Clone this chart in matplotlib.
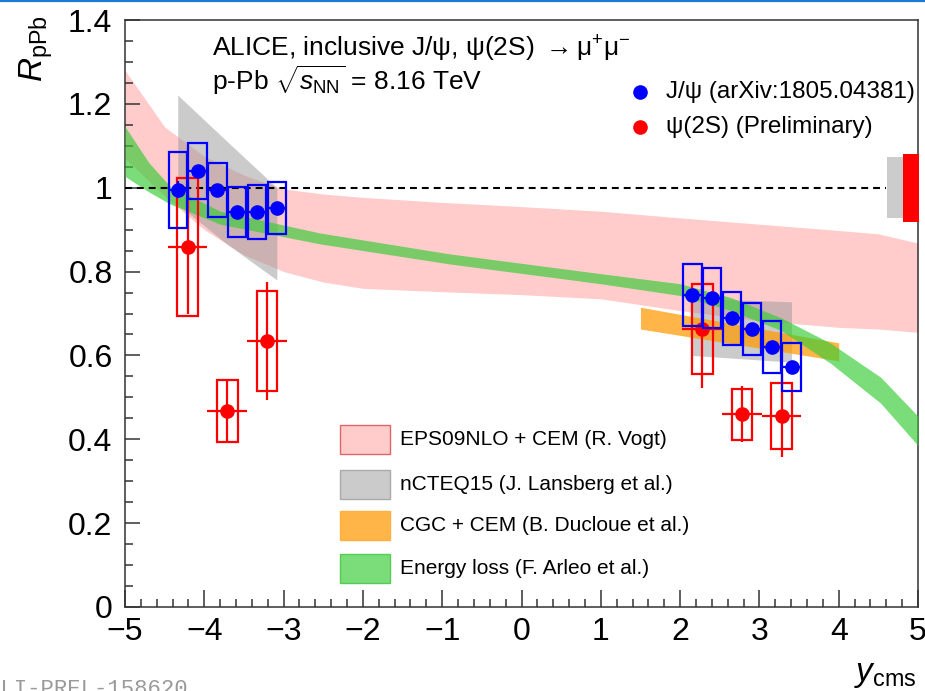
import numpy as np
import matplotlib
matplotlib.use("Agg")
import matplotlib.pyplot as plt
from matplotlib.patches import Rectangle
from matplotlib.lines import Line2D
from matplotlib.ticker import FixedLocator, MultipleLocator

plt.rcParams['font.family'] = ['Liberation Sans', 'DejaVu Sans']
plt.rcParams['mathtext.fontset'] = 'custom'
plt.rcParams['mathtext.rm'] = 'Liberation Sans'
plt.rcParams['mathtext.it'] = 'Liberation Sans:italic'
plt.rcParams['mathtext.bf'] = 'Liberation Sans:bold'

# ---------------- data ----------------
# inclusive J/psi R_pPb (bin centres, values, stat, uncorrelated syst)
jpsi_y = [-4.335, -4.085, -3.835, -3.585, -3.335, -3.085,
          2.155, 2.405, 2.655, 2.905, 3.155, 3.405]
jpsi_r = [0.995, 1.040, 0.995, 0.942, 0.942, 0.952,
          0.744, 0.737, 0.689, 0.663, 0.620, 0.572]
jpsi_stat = [0.020, 0.015, 0.012, 0.012, 0.012, 0.012,
             0.010, 0.008, 0.008, 0.008, 0.008, 0.010]
jpsi_sys = [0.090, 0.067, 0.065, 0.060, 0.064, 0.062,
            0.074, 0.072, 0.063, 0.062, 0.061, 0.057]
jpsi_halfbin = 0.125
jpsi_boxhalf = 0.115

# psi(2S) R_pPb
psi2s_y = [-4.21, -3.71, -3.21, 2.28, 2.78, 3.28]
psi2s_r = [0.859, 0.467, 0.634, 0.663, 0.460, 0.456]
psi2s_stat = [0.160, 0.075, 0.140, 0.140, 0.067, 0.099]
psi2s_sys = [0.165, 0.074, 0.120, 0.108, 0.061, 0.079]
psi2s_halfbin = 0.25
psi2s_boxhalf = 0.13

# global (correlated) uncertainties
glob_jpsi = 0.073
glob_psi2s = 0.081

# EPS09NLO + CEM band
eps_x = [-5, -4.5, -4, -3.5, -3, -2.5, -2, -1, 0, 1, 2, 3, 4, 4.5, 5]
eps_hi = [1.28, 1.145, 1.075, 1.03, 0.997, 0.985, 0.977, 0.965, 0.955,
          0.944, 0.928, 0.913, 0.898, 0.89, 0.868]
eps_lo = [1.07, 0.98, 0.90, 0.84, 0.80, 0.775, 0.76, 0.752, 0.745,
          0.735, 0.707, 0.683, 0.667, 0.663, 0.655]

# nCTEQ15 bands (backward / forward)
ncteq_bw_x = [-4.335, -3.71, -3.085]
ncteq_bw_hi = [1.221, 1.11, 1.0]
ncteq_bw_lo = [0.96, 0.865, 0.78]
ncteq_fw_x = [2.155, 2.78, 3.405]
ncteq_fw_hi = [0.738, 0.732, 0.728]
ncteq_fw_lo = [0.600, 0.592, 0.584]

# CGC + CEM band
cgc_x = [1.5, 4.0]
cgc_hi = [0.715, 0.630]
cgc_lo = [0.663, 0.587]

# Energy loss band
eloss_x = [-5, -4.7, -4.43, -3.8, -2.54, -0.9, 1.0, 2.0, 2.64, 3.27, 3.9, 4.53, 5.0]
eloss_hi = [1.146, 1.06, 1.003, 0.944, 0.892, 0.842, 0.795, 0.771, 0.738,
            0.690, 0.629, 0.548, 0.455]
eloss_lo = [1.027, 0.99, 0.961, 0.913, 0.866, 0.818, 0.771, 0.743, 0.707,
            0.660, 0.581, 0.486, 0.385]

x_ticks = [-5, -4, -3, -2, -1, 0, 1, 2, 3, 4, 5]
x_ticklabels = ['\u22125', '\u22124', '\u22123', '\u22122', '\u22121',
                '0', '1', '2', '3', '4', '5']
y_ticks = [0, 0.2, 0.4, 0.6, 0.8, 1.0, 1.2, 1.4]
y_ticklabels = ['0', '0.2', '0.4', '0.6', '0.8', '1', '1.2', '1.4']

model_labels = ['EPS09NLO + CEM (R. Vogt)', 'nCTEQ15 (J. Lansberg et al.)',
                'CGC + CEM (B. Ducloue et al.)', 'Energy loss (F. Arleo et al.)']

# ---------------- styles ----------------
c_eps = '#ff9999'
c_ncteq = '#999999'
c_cgc = '#ff9900'
c_eloss = '#33cc33'
a_eps, a_ncteq, a_cgc, a_eloss = 0.5, 0.5, 0.72, 0.65

fig = plt.figure(figsize=(9.25, 6.91), dpi=100)
ax = fig.add_axes([125 / 925, 84 / 691, 793 / 925, 587 / 691])
ax.set_xlim(-5, 5)
ax.set_ylim(0, 1.4)

# model bands
ax.fill_between(eps_x, eps_lo, eps_hi, color=c_eps, alpha=a_eps, lw=0, zorder=1)
ax.fill_between(ncteq_bw_x, ncteq_bw_lo, ncteq_bw_hi, color=c_ncteq, alpha=a_ncteq, lw=0, zorder=2)
ax.fill_between(ncteq_fw_x, ncteq_fw_lo, ncteq_fw_hi, color=c_ncteq, alpha=a_ncteq, lw=0, zorder=2)
ax.fill_between(cgc_x, cgc_lo, cgc_hi, color=c_cgc, alpha=a_cgc, lw=0, zorder=3)
ax.fill_between(eloss_x, eloss_lo, eloss_hi, color=c_eloss, alpha=a_eloss, lw=0, zorder=3)

# unity reference
ax.plot([-5, 4.6], [1, 1], color='black', lw=1.5, ls=(0, (3.3, 2.4)), zorder=4)

# global uncertainty boxes
ax.add_patch(Rectangle((4.61, 1 - glob_jpsi), 0.2, 2 * glob_jpsi,
                       facecolor='#cccccc', edgecolor='none', zorder=4, clip_on=False))
ax.add_patch(Rectangle((4.81, 1 - glob_psi2s), 0.2, 2 * glob_psi2s,
                       facecolor='#ff0000', edgecolor='none', zorder=4, clip_on=False))

# psi(2S) points
for x, r, s in zip(psi2s_y, psi2s_r, psi2s_sys):
    ax.add_patch(Rectangle((x - psi2s_boxhalf, r - s), 2 * psi2s_boxhalf, 2 * s,
                           fill=False, edgecolor='#ff0000', lw=1.6, zorder=5))
ax.errorbar(psi2s_y, psi2s_r, xerr=psi2s_halfbin, yerr=psi2s_stat, fmt='o',
            color='#ff0000', ms=9.5, elinewidth=1.6, capsize=0, zorder=6)

# J/psi points
for x, r, s in zip(jpsi_y, jpsi_r, jpsi_sys):
    ax.add_patch(Rectangle((x - jpsi_boxhalf, r - s), 2 * jpsi_boxhalf, 2 * s,
                           fill=False, edgecolor='#0000ff', lw=1.6, zorder=7))
ax.errorbar(jpsi_y, jpsi_r, xerr=jpsi_halfbin, yerr=jpsi_stat, fmt='o',
            color='#0000ff', ms=9.5, elinewidth=1.6, capsize=0, zorder=8)

# axes styling
for side in ['left', 'bottom', 'top', 'right']:
    ax.spines[side].set_linewidth(1.1)
    ax.spines[side].set_color('#333333')
ax.xaxis.set_major_locator(FixedLocator(x_ticks))
ax.xaxis.set_minor_locator(MultipleLocator(0.2))
ax.yaxis.set_major_locator(FixedLocator(y_ticks))
ax.yaxis.set_minor_locator(MultipleLocator(0.05))
ax.set_xticklabels(x_ticklabels)
ax.set_yticklabels(y_ticklabels)
ax.tick_params(axis='x', which='major', direction='in', length=12, width=1.1,
               labelsize=23, pad=7, color='#333333')
ax.tick_params(axis='x', which='minor', direction='in', length=5.5, width=1.1, color='#333333')
ax.tick_params(axis='y', which='major', direction='in', length=11, width=1.1,
               labelsize=23, pad=9, color='#333333')
ax.tick_params(axis='y', which='minor', direction='in', length=5.5, width=1.1, color='#333333')

# axis titles
fig.text(36 / 925, 1 - 15 / 691, r'$R_{\mathrm{pPb}}$', rotation=90,
         ha='center', va='top', fontsize=24)
fig.text(917 / 925, 1 / 691, r'$y_{\mathrm{cms}}$', ha='right', va='bottom', fontsize=24)

# header text
ax.text(0.11, 0.937,
        'ALICE, inclusive J/\u03c8, \u03c8(2S) $\\rightarrow$\u03bc$^{+}$\u03bc$^{-}$',
        transform=ax.transAxes, fontsize=19, va='baseline', ha='left')
ax.text(0.11, 0.881, r'p-Pb $\sqrt{s_{\mathrm{NN}}}$ = 8.16 TeV',
        transform=ax.transAxes, fontsize=19, va='baseline', ha='left')

# data legend
leg_y = [0.877, 0.818]
leg_c = ['#0000ff', '#ff0000']
leg_t = ['J/\u03c8 (arXiv:1805.04381)', '\u03c8(2S) (Preliminary)']
for yy, cc, tt in zip(leg_y, leg_c, leg_t):
    ax.plot([0.649], [yy], 'o', color=cc, ms=9.5, transform=ax.transAxes, clip_on=False, zorder=9)
    ax.text(0.682, yy, tt, transform=ax.transAxes, fontsize=17.5, va='center', ha='left')

# model legend
sw_y = [0.2845, 0.2095, 0.138, 0.0664]
sw_fc = [(c_eps, a_eps), (c_ncteq, a_ncteq), (c_cgc, a_cgc), (c_eloss, a_eloss)]
sw_ec = ['#e06666', '#aaaaaa', '#ffb040', '#55cc55']
for yy, (fc, al), ec, lab in zip(sw_y, sw_fc, sw_ec, model_labels):
    ax.add_patch(Rectangle((0.271, yy - 0.0247), 0.063, 0.0494, transform=ax.transAxes,
                           facecolor=matplotlib.colors.to_rgba(fc, al), edgecolor=ec,
                           lw=1.0, zorder=9))
    ax.text(0.3468, yy, lab, transform=ax.transAxes, fontsize=15, va='center', ha='left')

# preliminary figure id and window border
fig.text(-13 / 925, -4 / 691, 'ALI-PREL-158620', family='Liberation Mono',
         fontsize=16, color='#9a9a9a', va='baseline', ha='left')
fig.add_artist(Line2D([0, 1], [1 - 1 / 691, 1 - 1 / 691], color='#1e78d7', lw=1.6,
                      transform=fig.transFigure))

fig.savefig('out.png', dpi=100)
